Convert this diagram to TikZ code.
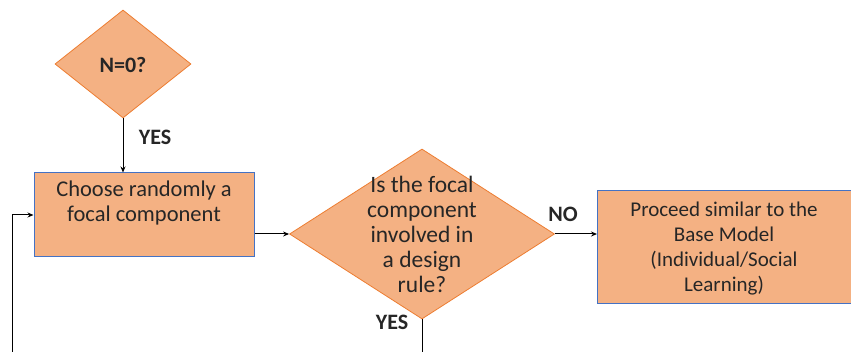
\documentclass[tikz,border=0pt]{standalone}
\usepackage{fontspec}
\setmainfont{Carlito}
\usetikzlibrary{shapes.geometric,arrows.meta}
\definecolor{fillor}{HTML}{F4B183}
\definecolor{edgeor}{HTML}{ED7D31}
\definecolor{edgebl}{HTML}{4472C4}
\tikzset{
  arr/.style={draw=black,line width=1pt,-{Stealth[length=6pt,width=5pt]}},
  plain/.style={draw=black,line width=1pt},
  decbox/.style={diamond,fill=fillor,draw=edgeor,line width=0.8pt,inner sep=0pt,aspect=#1},
  procbox/.style={rectangle,fill=fillor,draw=edgebl,line width=1pt,inner sep=0pt},
  bodytext/.style={font=\fontsize{#1}{25}\selectfont,align=center,text=black!85},
  lbl/.style={font=\fontsize{22}{24}\selectfont\bfseries,text=black!85},
}
\begin{document}
\begin{tikzpicture}[x=1pt,y=-1pt]
\useasboundingbox (0,0) rectangle (851,352);
\clip (0,0) rectangle (851,352);
% nodes
\node[decbox=1.26, minimum width=136pt, minimum height=108pt] (d1) at (123,64) {};
\node[lbl] (d1t) at (123,65) {N=0?};
\node[procbox, minimum width=220pt, minimum height=84pt] (b1) at (144,215) {};
\node[bodytext=22.5] (b1t) at (144,203) {Choose randomly a\\focal component};
\node[decbox=1.56, minimum width=265pt, minimum height=170pt] (d2) at (422,234) {};
\node[bodytext=23.5] (d2t) at (422,234) {Is the focal\\component\\involved in\\a design\\rule?};
\node[procbox, minimum width=257pt, minimum height=113pt] (b2) at (726,247.5) {};
\node[bodytext=21] (b2t) at (724,249) {Proceed similar to the\\Base Model\\(Individual/Social\\Learning)};
% labels
\node[lbl] (yes1) at (155,137) {YES};
\node[lbl] (no1) at (563,214) {NO};
\node[lbl] (yes2) at (392,322) {YES};
% connectors
\coordinate (loopin) at (12,352);
\coordinate (d2out) at (422,352);
\draw[arr] (d1.south) -- (d1.south |- b1.north);
\draw[arr] (loopin) |- (b1.west);
\draw[arr] (b1.east |- d2.west) -- (d2.west);
\draw[arr] (d2.east) -- (b2.west |- d2.east);
\draw[plain] (d2.south) -- (d2out);
\end{tikzpicture}
\end{document}
